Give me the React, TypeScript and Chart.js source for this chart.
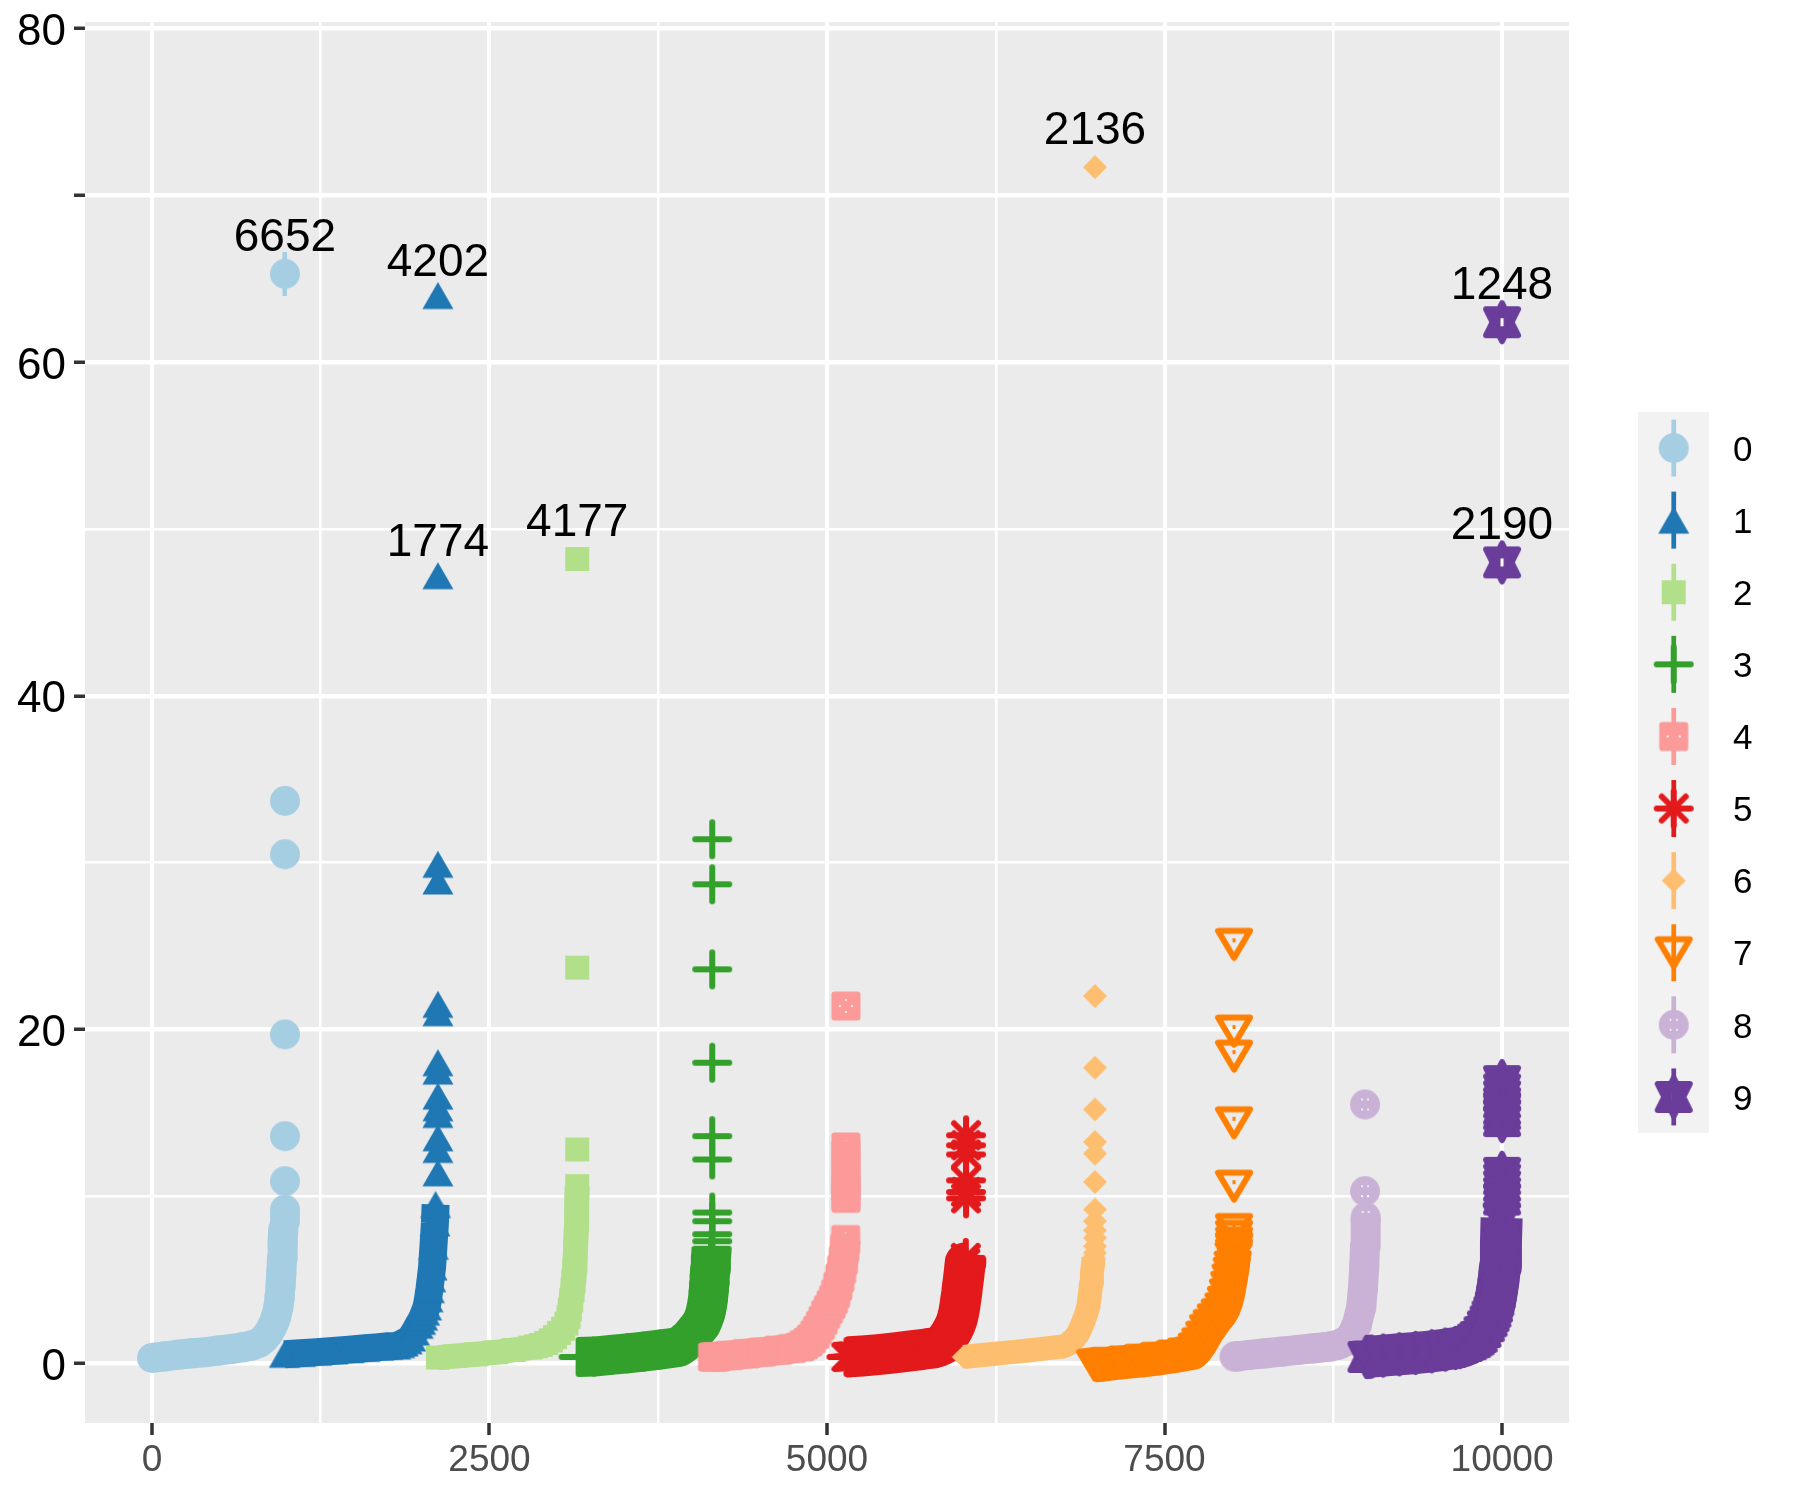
import React, { useEffect, useRef } from 'react';
import { Chart, registerables } from 'chart.js';

Chart.register(...registerables);

const seriesNames = ['0', '1', '2', '3', '4', '5', '6', '7', '8', '9'];
const seriesColors = ['#a6cee3', '#1f78b4', '#b2df8a', '#33a02c', '#fb9a99', '#e31a1c', '#fdbf6f', '#ff7f00', '#cab2d6', '#6a3d9a'];

// the dense part of each group, read along the middle of the band
const curveX0 = [0, 100, 200, 300, 400, 500, 600, 680, 740, 790, 830, 860, 885, 905, 920, 935, 945, 953, 958, 964, 968, 972];
const curveY0 = [0.3, 0.4, 0.5, 0.58, 0.65, 0.75, 0.85, 0.95, 1.05, 1.2, 1.45, 1.75, 2.1, 2.45, 2.8, 3.3, 3.9, 4.7, 5.4, 6.3, 7.2, 8.0];
const curveX1 = [981, 1100, 1220, 1340, 1460, 1580, 1680, 1748, 1805, 1835, 1860, 1890, 1916, 1945, 1972, 1990, 2005, 2020, 2034, 2045, 2055, 2065, 2075, 2085, 2096, 2101];
const curveY1 = [0.52, 0.58, 0.65, 0.72, 0.8, 0.88, 0.95, 1.0, 1.02, 1.1, 1.2, 1.33, 1.5, 1.85, 2.26, 2.5, 2.75, 3.05, 3.36, 3.85, 4.4, 5.05, 5.76, 7.0, 8.4, 9.5];
const curveX2 = [2118, 2250, 2400, 2550, 2680, 2804, 2845, 2880, 2920, 2955, 2985, 3015, 3045, 3070, 3085, 3095, 3105, 3115, 3122, 3128, 3133, 3137, 3142, 3146, 3150];
const curveY2 = [0.32, 0.42, 0.52, 0.64, 0.78, 0.92, 1.0, 1.08, 1.2, 1.36, 1.55, 1.8, 2.05, 2.36, 2.75, 3.2, 3.75, 4.36, 4.9, 5.5, 6.1, 6.76, 8.0, 9.5, 10.6];
const curveX3 = [3160, 3274, 3400, 3520, 3640, 3760, 3850, 3900, 3930, 3956, 3985, 4010, 4040, 4070, 4085, 4100, 4110, 4118, 4124, 4128, 4131, 4134, 4140, 4146];
const curveY3 = [0.36, 0.38, 0.48, 0.58, 0.68, 0.8, 0.9, 0.96, 1.12, 1.3, 1.5, 1.75, 2.05, 2.36, 2.65, 3.0, 3.4, 3.8, 4.3, 4.8, 5.2, 5.6, 6.3, 6.85];
const curveX4 = [4152, 4165, 4180, 4280, 4400, 4520, 4640, 4740, 4800, 4830, 4860, 4885, 4910, 4930, 4951, 4970, 4990, 5010, 5030, 5048, 5064, 5080, 5095, 5108, 5121, 5132, 5138];
const curveY4 = [0.35, 0.36, 0.37, 0.45, 0.55, 0.65, 0.76, 0.86, 0.96, 1.1, 1.25, 1.45, 1.7, 1.95, 2.26, 2.55, 2.9, 3.2, 3.5, 3.8, 4.16, 4.6, 5.1, 5.6, 6.16, 6.9, 7.4];
const curveX5 = [5144, 5155, 5170, 5185, 5200, 5260, 5380, 5500, 5620, 5700, 5745, 5775, 5800, 5830, 5858, 5885, 5915, 5935, 5950, 5965, 5975, 5983, 5990, 5998, 6005, 6012, 6017, 6024, 6028];
const curveY5 = [0.36, 0.36, 0.37, 0.38, 0.39, 0.42, 0.5, 0.6, 0.72, 0.8, 0.86, 0.89, 0.92, 1.0, 1.1, 1.4, 1.76, 2.05, 2.3, 2.65, 3.0, 3.35, 3.76, 4.2, 4.7, 5.1, 5.5, 6.0, 6.3];
const curveX6 = [6013, 6130, 6250, 6370, 6490, 6610, 6700, 6754, 6785, 6810, 6835, 6860, 6880, 6900, 6918, 6935, 6943, 6950, 6956, 6962, 6970, 6975];
const curveY6 = [0.36, 0.46, 0.55, 0.65, 0.75, 0.86, 0.95, 0.99, 1.12, 1.3, 1.5, 1.76, 2.1, 2.5, 2.9, 3.36, 3.8, 4.3, 4.8, 5.36, 5.9, 6.3];
const curveX7 = [6985, 7005, 7025, 7045, 7065, 7085, 7100, 7220, 7340, 7460, 7580, 7660, 7710, 7740, 7766, 7795, 7823, 7850, 7880, 7910, 7937, 7955, 7970, 7980, 7990, 7998, 8005, 8012, 8016];
const curveY7 = [-0.14, -0.13, -0.11, -0.09, -0.07, -0.05, -0.04, 0.06, 0.16, 0.28, 0.42, 0.54, 0.6, 0.85, 1.16, 1.55, 1.96, 2.25, 2.6, 2.9, 3.26, 3.65, 4.1, 4.55, 5.0, 5.4, 5.76, 6.3, 6.8];
const curveX8 = [8018, 8030, 8045, 8130, 8250, 8370, 8490, 8610, 8690, 8730, 8790, 8840, 8881, 8925, 8957, 8970, 8979, 8985, 8990];
const curveY8 = [0.38, 0.39, 0.4, 0.48, 0.58, 0.68, 0.78, 0.88, 0.95, 0.99, 1.1, 1.3, 1.56, 2.3, 3.36, 4.5, 5.76, 7.0, 8.75];
const curveX9 = [8996, 9005, 9020, 9035, 9120, 9240, 9360, 9480, 9580, 9656, 9690, 9720, 9750, 9780, 9805, 9827, 9855, 9880, 9900, 9915, 9928, 9940, 9950, 9960, 9968, 9975, 9980, 9985, 9992, 9997];
const curveY9 = [0.36, 0.36, 0.37, 0.38, 0.44, 0.52, 0.6, 0.7, 0.8, 0.9, 0.95, 1.02, 1.12, 1.25, 1.4, 1.56, 1.85, 2.2, 2.5, 2.8, 3.05, 3.36, 3.75, 4.2, 4.6, 5.0, 5.4, 5.76, 7.2, 8.7];

// the separate points above each band
const topX = [985, 2118, 3150, 4150, 5140, 6030, 6985, 8015, 8985, 10000];
const topY0 = [65.3, 33.7, 30.5, 19.7, 13.6, 10.9, 9.2, 8.9, 8.5];
const topY1 = [64, 47.2, 29.9, 28.9, 21.5, 21, 18, 17.5, 16, 15.3, 14.9, 13.5, 12.8, 11.4];
const topY2 = [48.2, 23.7, 12.8];
const topY3 = [31.4, 28.7, 23.6, 18, 13.6, 12.2, 9.02, 8.5, 7.72, 7.3];
const topY4 = [21.4, 12.95, 12.5, 11.5, 11, 10.5, 10, 9.87];
const topY5 = [13.65, 13.05, 12.5, 10.95, 10.25, 9.87];
const topY6 = [71.7, 22, 17.7, 15.2, 13.25, 12.55, 10.85, 9.2, 8.5, 7.95, 7.5, 7, 6.6];
const topY7 = [25.1, 19.9, 18.4, 14.4, 10.6, 8, 7.6, 7.2, 6.9, 6.5];
const topY8 = [15.5, 10.3];
const topY9 = [62.4, 48, 16.9, 16.4, 16, 15.6, 15.2, 14.9, 14.5, 11.4, 11, 10.6, 10.2, 9.8];

const labelTexts = ['6652', '4202', '1774', '4177', '2136', '1248', '2190'];
const labelX = [985, 2118, 2118, 3150, 6985, 10000, 10000];
const labelY = [65.3, 63.8, 47, 48.2, 71.7, 62.4, 48];

const markedX = [985];
const markedY = [65.3];

const xTickValues = [0, 1250, 2500, 3750, 5000, 6250, 7500, 8750, 10000];
const xTickLabels = ['0', '2500', '5000', '7500', '10000'];
const yTickValues = [0, 10, 20, 30, 40, 50, 60, 70, 80];
const yTickLabels = ['0', '20', '40', '60', '80'];
const yMarkedTicks = [0, 20, 40, 60, 70, 80];

const curveXs = [curveX0, curveX1, curveX2, curveX3, curveX4, curveX5, curveX6, curveX7, curveX8, curveX9];
const curveYs = [curveY0, curveY1, curveY2, curveY3, curveY4, curveY5, curveY6, curveY7, curveY8, curveY9];
const topYs = [topY0, topY1, topY2, topY3, topY4, topY5, topY6, topY7, topY8, topY9];
const bandWidths = [30, 28, 25, 40, 30, 41, 24, 34, 30, 42];

const FONT = '"Liberation Sans", Arial, sans-serif';

function poly(ctx: CanvasRenderingContext2D, pts: number[][]) {
  ctx.beginPath();
  pts.forEach((p, i) => (i ? ctx.lineTo(p[0], p[1]) : ctx.moveTo(p[0], p[1])));
  ctx.closePath();
}

function punch(ctx: CanvasRenderingContext2D, pts: number[][], w: number, h = w) {
  ctx.save();
  ctx.globalCompositeOperation = 'destination-out';
  pts.forEach((p) => ctx.fillRect(p[0] - w / 2, p[1] - h / 2, w, h));
  ctx.restore();
}

// R's point shapes as canvases, used as chart.js point styles
function makeSymbol(i: number, color: string) {
  const c = document.createElement('canvas');
  c.width = 48;
  c.height = 48;
  const ctx = c.getContext('2d')!;
  ctx.translate(24, 24);
  ctx.fillStyle = color;
  ctx.strokeStyle = color;
  ctx.lineWidth = 6;
  ctx.lineCap = 'round';
  ctx.lineJoin = 'round';
  const cross = (r: number) => {
    ctx.beginPath();
    ctx.moveTo(-r, 0);
    ctx.lineTo(r, 0);
    ctx.moveTo(0, -r);
    ctx.lineTo(0, r);
    ctx.stroke();
  };
  if (i === 0 || i === 8) {
    ctx.beginPath();
    ctx.arc(0, 0, 15, 0, Math.PI * 2);
    ctx.fill();
    if (i === 8) punch(ctx, [[-3, -5], [3, -5], [-3, 5], [3, 5]], 2);
  } else if (i === 1) {
    poly(ctx, [[0, -13.5], [15.5, 13.5], [-15.5, 13.5]]);
    ctx.fill();
  } else if (i === 2) {
    ctx.fillRect(-12, -12, 24, 24);
  } else if (i === 3) {
    cross(17);
  } else if (i === 4) {
    ctx.beginPath();
    ctx.roundRect(-14.5, -14.5, 29, 29, 3);
    ctx.fill();
    punch(ctx, [[-6, 0], [6, 0], [0, -6], [0, 6]], 2);
  } else if (i === 5) {
    cross(17);
    ctx.beginPath();
    ctx.moveTo(-12, -12);
    ctx.lineTo(12, 12);
    ctx.moveTo(-12, 12);
    ctx.lineTo(12, -12);
    ctx.stroke();
  } else if (i === 6) {
    poly(ctx, [[0, -12], [12, 0], [0, 12], [-12, 0]]);
    ctx.fill();
  } else if (i === 7) {
    poly(ctx, [[-16, -13.5], [16, -13.5], [0, 13.5]]);
    ctx.stroke();
    ctx.fillRect(-1.5, -6, 3, 4);
  } else {
    poly(ctx, [[0, -19], [16, 13], [-16, 13]]);
    ctx.fill();
    ctx.stroke();
    poly(ctx, [[0, 19], [16, -13], [-16, -13]]);
    ctx.fill();
    ctx.stroke();
    punch(ctx, [[0, 0]], 3, 8);
  }
  return c;
}

// the thin upright bar through the highest point of group 0
function makeBar(color: string) {
  const c = document.createElement('canvas');
  c.width = 6;
  c.height = 44;
  const ctx = c.getContext('2d')!;
  ctx.fillStyle = color;
  ctx.fillRect(0.5, 0, 4.5, 44);
  return c;
}

export default function App() {
  const canvasRef = useRef<HTMLCanvasElement>(null);

  useEffect(() => {
    const ctx = canvasRef.current?.getContext('2d');
    if (!ctx) return;
    const symbols = seriesColors.map((color, i) => makeSymbol(i, color));

    const datasets: any[] = [];
    seriesNames.forEach((name, i) => {
      const order = (9 - i) * 2 + 2;
      datasets.push({
        label: name,
        data: curveXs[i].map((x, k) => ({ x, y: curveYs[i][k] })),
        showLine: true,
        borderColor: seriesColors[i],
        borderWidth: bandWidths[i],
        borderCapStyle: 'butt',
        borderJoinStyle: 'round',
        pointStyle: symbols[i],
        pointRadius: 15,
        pointBorderWidth: 0,
        order,
      });
      datasets.push({
        label: name,
        data: topYs[i].map((y) => ({ x: topX[i], y })),
        showLine: false,
        pointStyle: symbols[i],
        pointRadius: 15,
        pointBorderWidth: 0,
        order: order - 1,
      });
    });
    datasets.push({
      label: 'marked',
      data: markedX.map((x, k) => ({ x, y: markedY[k] })),
      showLine: false,
      pointStyle: makeBar(seriesColors[0]),
      pointRadius: 15,
      pointBorderWidth: 0,
      order: 0,
    });

    const chart = new Chart(ctx, {
      type: 'scatter',
      data: { datasets },
      options: {
        responsive: false,
        animation: false,
        events: [],
        layout: { padding: { top: 22, right: 231, left: 0, bottom: 0 } },
        plugins: { legend: { display: false }, tooltip: { enabled: false } },
        scales: {
          x: {
            type: 'linear',
            min: -496,
            max: 10496,
            afterBuildTicks: (s: any) => {
              s.ticks = xTickValues.map((value) => ({ value }));
            },
            afterFit: (s: any) => {
              s.height = 77;
              s.paddingLeft = 0;
              s.paddingRight = 0;
            },
            border: { display: false },
            grid: {
              color: '#ffffff',
              lineWidth: (c: any) => (c.tick.value % 2500 === 0 ? 4 : 2.5),
              tickLength: 12,
              tickWidth: 3.5,
              tickColor: (c: any) => (c.tick.value % 2500 === 0 ? '#333333' : 'rgba(0,0,0,0)'),
            },
            ticks: {
              autoSkip: false,
              maxRotation: 0,
              padding: 4,
              color: '#4d4d4d',
              font: { family: FONT, size: 37 },
              callback: (v: any) => (xTickLabels.includes(String(v)) ? String(v) : ''),
            },
          },
          y: {
            type: 'linear',
            min: -3.6,
            max: 80.4,
            afterBuildTicks: (s: any) => {
              s.ticks = yTickValues.map((value) => ({ value }));
            },
            afterFit: (s: any) => {
              s.width = 85;
              s.paddingTop = 0;
              s.paddingBottom = 0;
            },
            border: { display: false },
            grid: {
              color: '#ffffff',
              lineWidth: (c: any) => (c.tick.value % 20 === 0 || c.tick.value === 70 ? 4.5 : 2.5),
              tickLength: 11,
              tickWidth: 3.5,
              tickColor: (c: any) => (yMarkedTicks.includes(c.tick.value) ? '#333333' : 'rgba(0,0,0,0)'),
            },
            ticks: { display: false },
          },
        },
      },
      plugins: [
        {
          id: 'panel',
          beforeDraw: (c: any) => {
            const { left, top, width, height } = c.chartArea;
            c.ctx.save();
            c.ctx.fillStyle = '#ebebeb';
            c.ctx.fillRect(left, top, width, height);
            c.ctx.restore();
          },
        },
        {
          id: 'yTickText',
          afterDraw: (c: any) => {
            const g = c.ctx;
            g.save();
            g.fillStyle = '#000000';
            g.font = `44px ${FONT}`;
            g.textAlign = 'right';
            g.textBaseline = 'middle';
            yTickLabels.forEach((t) => {
              g.fillText(t, 66, c.scales.y.getPixelForValue(Number(t)) + 4.5);
            });
            g.restore();
          },
        },
        {
          id: 'pointLabels',
          afterDatasetsDraw: (c: any) => {
            const g = c.ctx;
            g.save();
            g.fillStyle = '#000000';
            g.font = `46px ${FONT}`;
            g.textAlign = 'center';
            g.textBaseline = 'alphabetic';
            labelTexts.forEach((t, i) => {
              g.fillText(t, c.scales.x.getPixelForValue(labelX[i]), c.scales.y.getPixelForValue(labelY[i]) - 23);
            });
            g.restore();
          },
        },
        {
          id: 'keyLegend',
          afterDraw: (c: any) => {
            const g = c.ctx;
            const left = 1638;
            const top = 412;
            const keyW = 71;
            const keyH = 72.1;
            g.save();
            g.fillStyle = '#f2f2f2';
            g.fillRect(left, top, keyW, keyH * seriesNames.length);
            seriesNames.forEach((name, i) => {
              const cy = top + keyH * (i + 0.5);
              g.fillStyle = seriesColors[i];
              g.fillRect(left + 33.4, cy - 28.5, 4.7, 57);
              g.drawImage(symbols[i], left + 35.7 - 24, cy - 24);
              g.fillStyle = '#000000';
              g.font = `35px ${FONT}`;
              g.textAlign = 'left';
              g.textBaseline = 'middle';
              g.fillText(name, 1733, cy + 3);
            });
            g.restore();
          },
        },
      ],
    } as any);

    return () => chart.destroy();
  }, []);

  return (
    <canvas
      ref={canvasRef}
      width={1800}
      height={1500}
      style={{ position: 'absolute', left: 0, top: 0, display: 'block' }}
    />
  );
}
